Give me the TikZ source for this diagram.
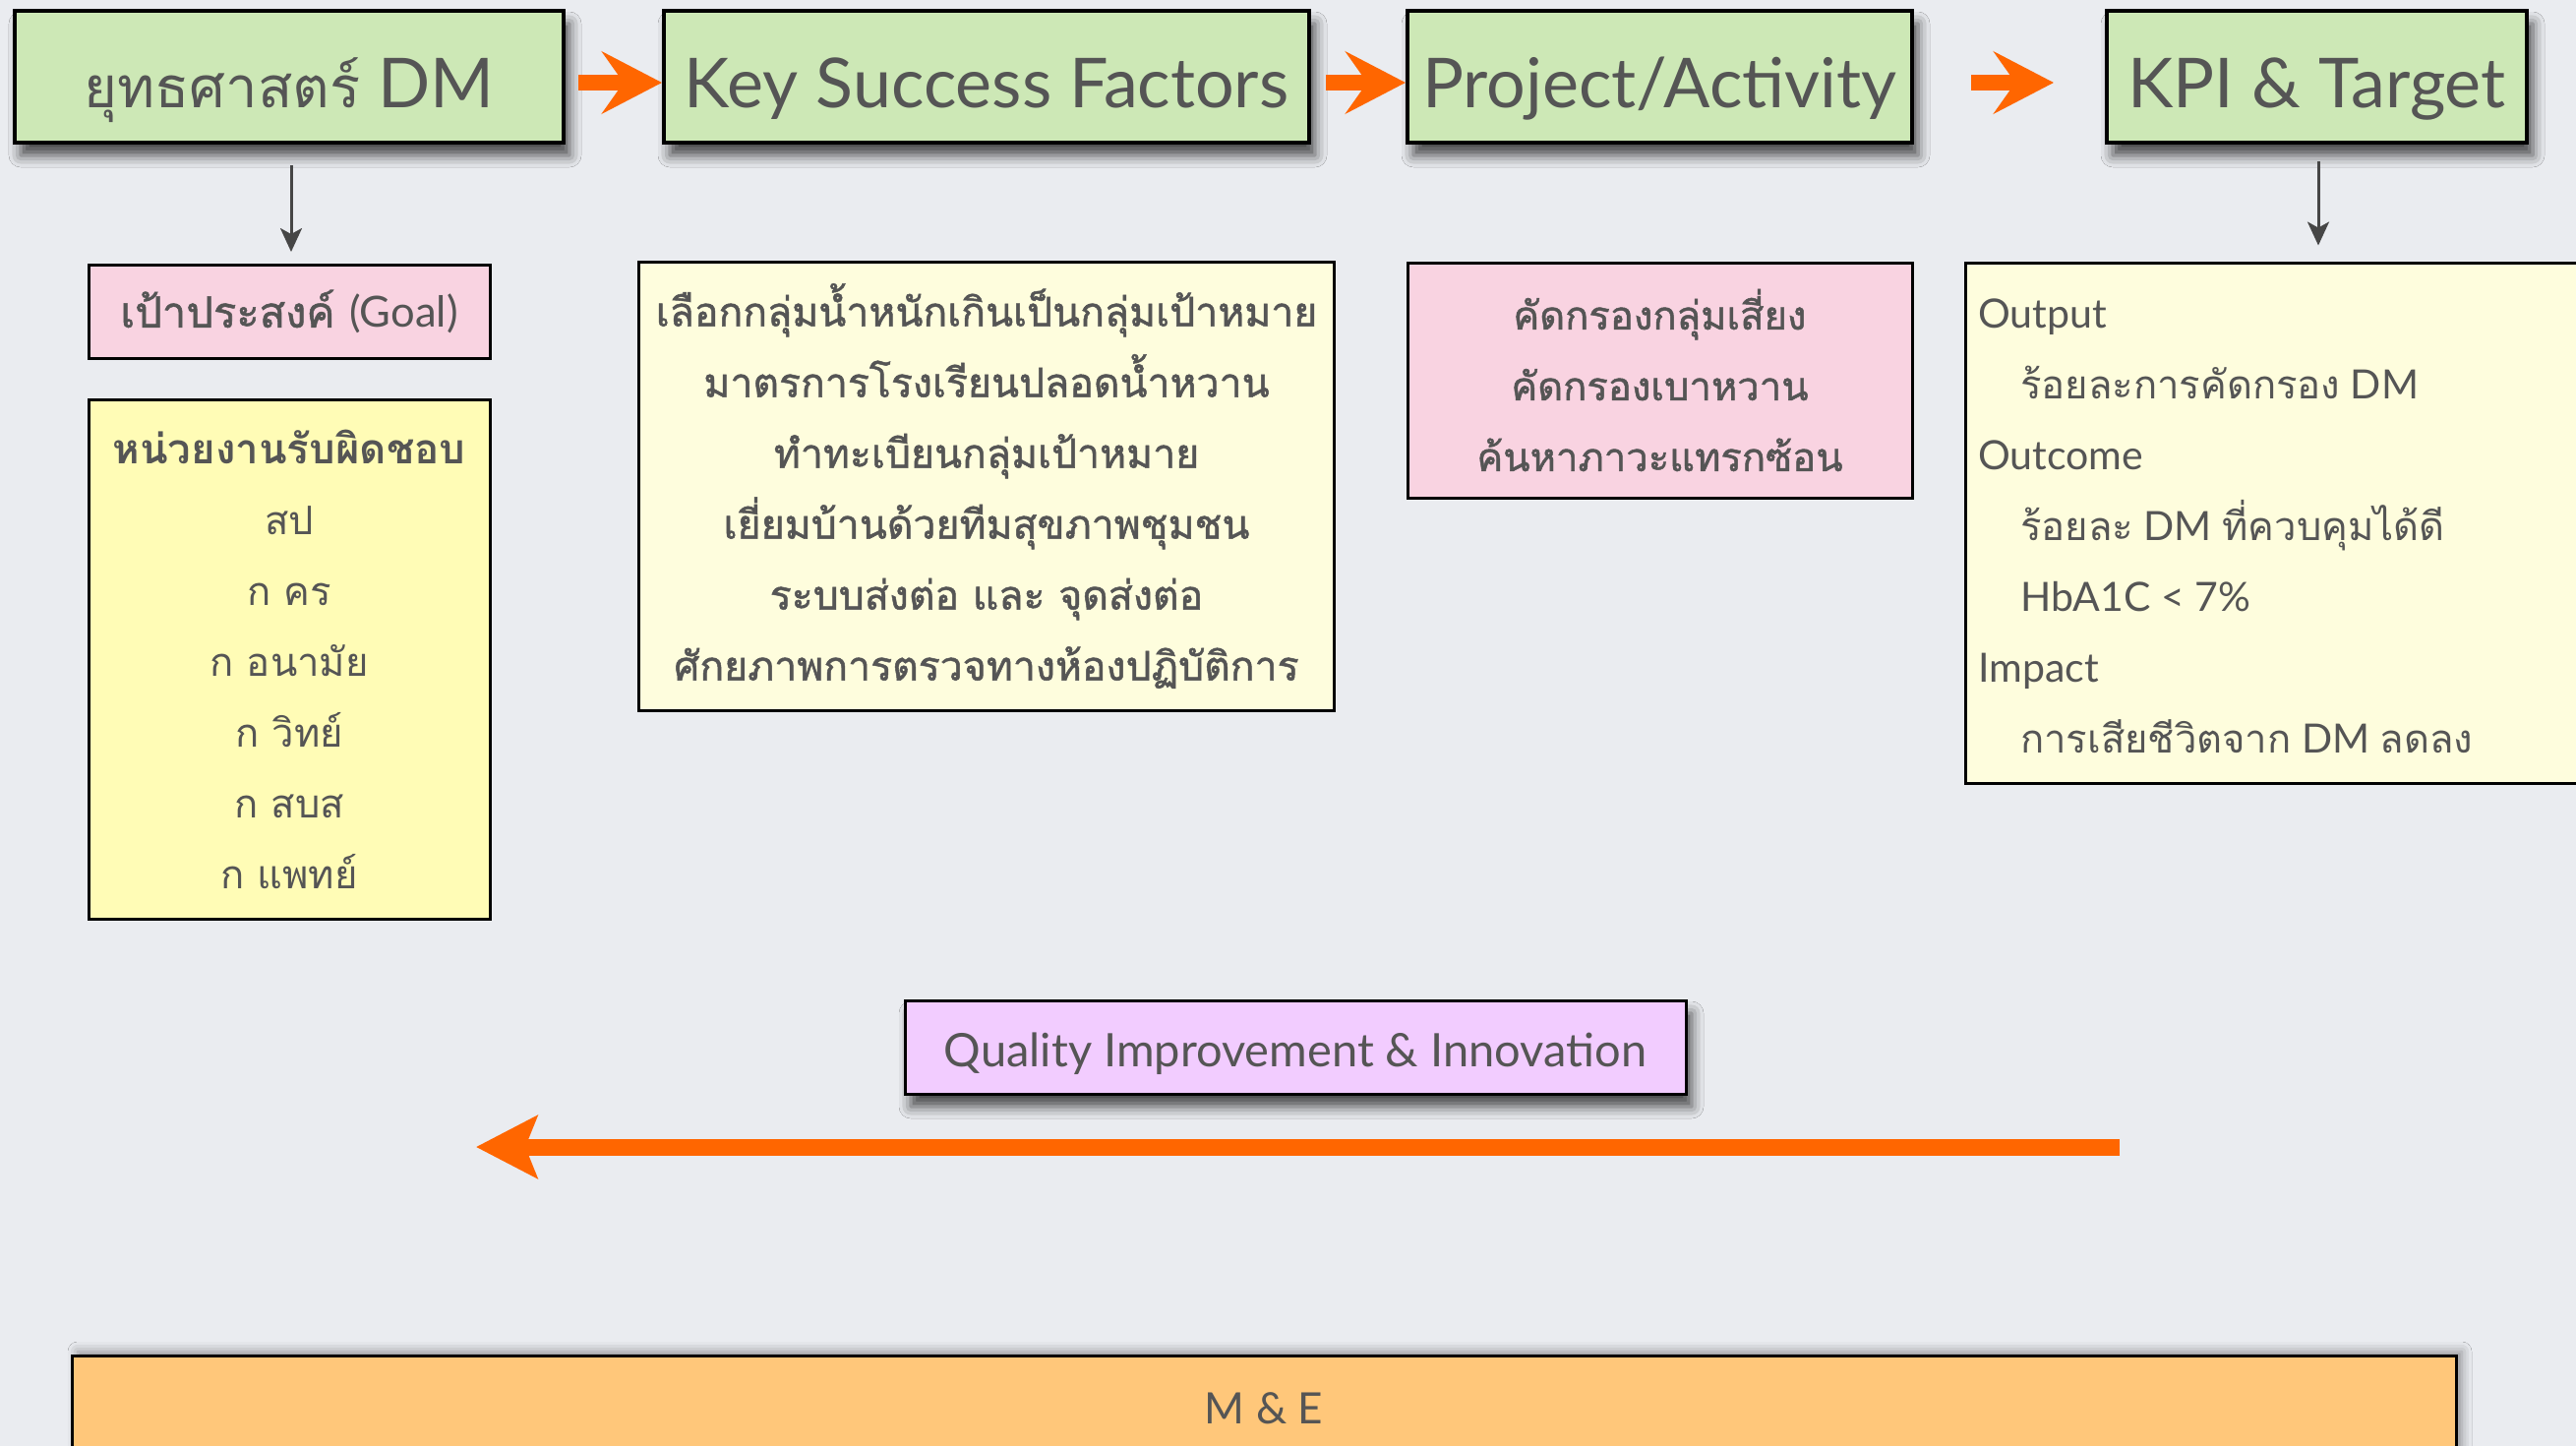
\documentclass[tikz,border=0pt]{standalone}
\usepackage{fontspec}
\setmainfont{Lato}
\newfontfamily\thai[Script=Thai]{Loma}
\newfontfamily\thaim[Script=Thai,FakeBold=1.2]{Loma}
\usetikzlibrary{arrows.meta,calc,shadows.blur}
\definecolor{bgc}{RGB}{234,236,240}
\definecolor{cgreen}{RGB}{205,232,182}
\definecolor{cpink}{RGB}{249,211,225}
\definecolor{cyel}{RGB}{255,252,182}
\definecolor{ccream}{RGB}{254,253,221}
\definecolor{cviolet}{RGB}{242,204,255}
\definecolor{cpeach}{RGB}{255,199,122}
\definecolor{corange}{RGB}{255,102,0}
\definecolor{tgray}{RGB}{85,85,85}
\definecolor{agray}{RGB}{70,70,70}
\begin{document}
\begin{tikzpicture}[x=1pt,y=-1pt,
  topbox/.style={draw=black, line width=4pt, fill=cgreen, minimum height=134pt, inner sep=0pt,
    blur shadow={shadow xshift=6pt, shadow yshift=-13pt, shadow blur radius=12pt, shadow opacity=70},
    text=tgray, font=\fontsize{70}{80}\selectfont, text height=76pt, text depth=14pt},
  flatbox/.style={draw=black, line width=3pt, inner sep=0pt, text=tgray, align=center,
    font=\thai\fontsize{40}{72}\selectfont},
  blockarr/.style={draw=corange, line width=16pt, -{Stealth[length=61pt,width=63pt,inset=22pt]}},
  bigarr/.style={draw=corange, line width=17pt, -{Stealth[length=62pt,width=63pt,inset=12pt]}},
  downarr/.style={draw=agray, line width=3pt, -{Stealth[length=24pt,width=22pt,inset=6pt]}},
]
\clip (0,0) rectangle (2619,1470);
\useasboundingbox (0,0) rectangle (2619,1470);
\fill[bgc] (0,0) rectangle (2619,1470);

% top row
\node[topbox, minimum width=558pt] (b1) at (294,78) {{\thai\fontsize{58}{70}\selectfont ยุทธศาสตร์} DM};
\node[topbox, minimum width=656pt] (b2) at (1003,78) {Key Success Factors};
\node[topbox, minimum width=513pt] (b3) at (1687.5,78) {Project/Activity};
\node[topbox, minimum width=427pt] (b4) at (2355.5,78) {KPI \& Target};

\draw[blockarr] ($(b1.east)+(13,6)$) -- ($(b2.west)+(0,6)$);
\draw[blockarr] ($(b2.east)+(15,6)$) -- ($(b3.west)+(0,6)$);
\draw[blockarr] ($(b3.east)+(58,6)$) -- ($(b4.west)+(-52,6)$);

% second row
\node[flatbox, fill=cpink, minimum width=408pt, minimum height=95pt,
  font=\thaim\fontsize{43.5}{72}\selectfont] (goal) at (294,317)
  {เป้าประสงค์ {\fontspec{Lato}(Goal)}};
\node[flatbox, fill=cyel, minimum width=408pt, minimum height=528pt] (resp) at (294,670)
  {{\bfseries\fontsize{42}{72}\selectfont หน่วยงานรับผิดชอบ}\\ สป\\ ก คร\\ ก อนามัย\\ ก วิทย์\\ ก สบส\\ ก แพทย์};
\node[flatbox, fill=ccream, minimum width=707pt, minimum height=456pt,
  font=\thaim\fontsize{41}{72}\selectfont] (ksf) at (1003,494)
  {เลือกกลุ่มน้ำหนักเกินเป็นกลุ่มเป้าหมาย\\ มาตรการโรงเรียนปลอดน้ำหวาน\\ ทำทะเบียนกลุ่มเป้าหมาย\\
   เยี่ยมบ้านด้วยทีมสุขภาพชุมชน\\ ระบบส่งต่อ และ จุดส่งต่อ\\ ศักยภาพการตรวจทางห้องปฏิบัติการ};
\node[flatbox, fill=cpink, minimum width=513pt, minimum height=239pt,
  font=\thaim\fontsize{40}{72}\selectfont] (proj) at (1687.5,386.5)
  {คัดกรองกลุ่มเสี่ยง\\ คัดกรองเบาหวาน\\ ค้นหาภาวะแทรกซ้อน};
\node[flatbox, fill=ccream, minimum width=660pt, minimum height=529pt] (kpi) at (2328,531.5) {};
\node[text=tgray, anchor=west, align=left, inner sep=0pt, font=\fontsize{41}{72}\selectfont] (kpit) at (2011,534.5)
  {Output\\ \hspace*{43pt}{\thai\fontsize{40}{72}\selectfont ร้อยละการคัดกรอง} DM\\ Outcome\\
   \hspace*{43pt}{\thai\fontsize{40}{72}\selectfont ร้อยละ} DM {\thai\fontsize{40}{72}\selectfont ที่ควบคุมได้ดี}\\
   \hspace*{43pt}HbA1C < 7\%\\ Impact\\
   \hspace*{43pt}{\thai\fontsize{40}{72}\selectfont การเสียชีวิตจาก} DM {\thai\fontsize{40}{72}\selectfont ลดลง}};

\draw[downarr] ($(b1.south)+(2,21)$) -- ($(goal.north)+(2,-12)$);
\draw[downarr] ($(b4.south)+(1.5,17)$) -- ($(kpi.north -| b4.south)+(1.5,-16)$);

% QI
\node[topbox, fill=cviolet, line width=3pt, minimum width=794pt, minimum height=95pt,
  font=\fontsize{47}{56}\selectfont, text height=46pt, text depth=6pt] (qi) at (1317,1064.5) {Quality Improvement \& Innovation};
\coordinate (qs) at (2155,1166);
\coordinate (qe) at (484,1166);
\draw[bigarr] (qs) -- (qe);

% M&E
\node[draw=black, line width=3pt, fill=cpeach, minimum width=2424pt, minimum height=140pt, inner sep=0pt,
  blur shadow={shadow xshift=6pt, shadow yshift=4pt, shadow blur radius=10pt, shadow opacity=40}] (me) at (1285,1448) {};
\node[text=tgray, font=\fontsize{44}{52}\selectfont] (met) at (1285,1432) {M \& E};
\end{tikzpicture}
\end{document}
